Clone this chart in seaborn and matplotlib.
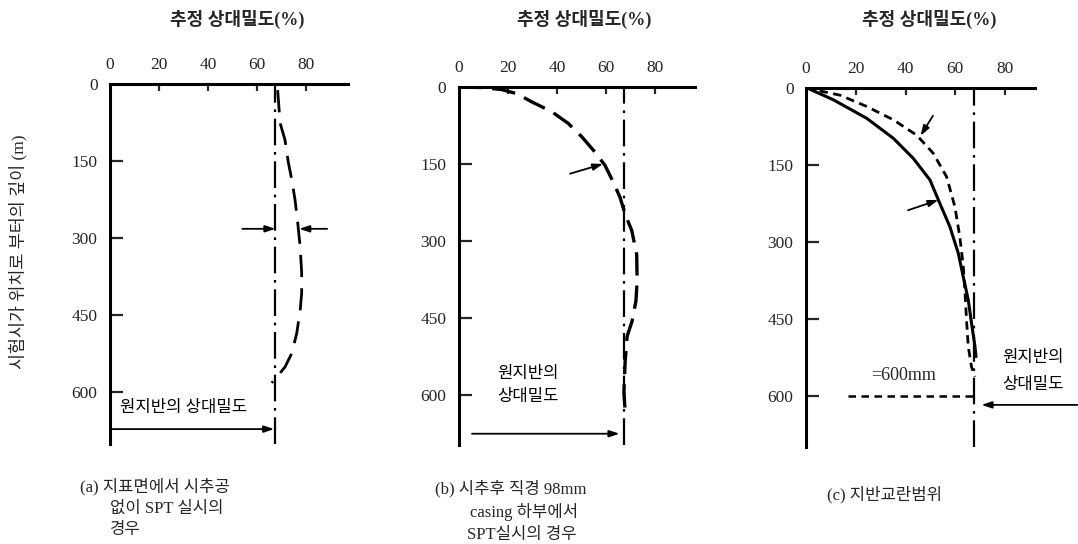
import matplotlib
matplotlib.use("Agg")
import matplotlib.pyplot as plt
import numpy as np
import pandas as pd
import seaborn as sns

sns.set_style("white")
plt.rcParams["font.family"] = ["Liberation Serif", "Noto Sans CJK KR"]

W, H = 1078, 544

# axis scales
x_ticks = [0, 20, 40, 60, 80]
y_ticks = [0, 150, 300, 450, 600]
x_title = "추정 상대밀도(%)"
y_title = "시험시가 위치로 부터의 깊이 (m)"

# relative density of the undisturbed ground (%)
orig_density = 67.5

# (a) SPT from ground surface without borehole
a_depth = [12, 76, 109, 154, 187, 226, 271, 318, 368, 407, 440, 485, 524, 551, 571, 582]
a_dens = [68.4, 69.4, 71.4, 72.8, 74.2, 75.5, 76.6, 77.6, 78.2, 78.2, 77.6, 76.2, 74.2, 71.4, 68.0, 66.0]

# (b) SPT below 98 mm casing after boring
b_depth = [0, 1, 5, 13, 29, 48, 71, 97, 127, 153, 186, 215, 248, 280, 326, 378, 417,
           457, 486, 535, 594, 633]
b_dens = [0.0, 9.3, 17.4, 23.6, 29.7, 37.8, 44.6, 50.1, 55.5, 59.6, 63.0, 65.7, 67.8,
          70.5, 72.5, 72.7, 72.2, 70.6, 68.6, 67.8, 67.3, 67.8]

# (c) disturbed zone
c_solid_depth = [0, 23, 59, 98, 137, 179, 225, 270, 322, 368, 413, 458, 504, 523]
c_solid_dens = [0.5, 11.0, 24.4, 35.1, 43.1, 49.8, 53.8, 57.8, 61.2, 63.2, 65.2, 66.5, 67.9, 68.3]
c_dash_depth = [0, 14, 36, 62, 92, 127, 173, 231, 290, 348, 400, 452, 504, 543, 562]
c_dash_dens = [0.0, 13.7, 24.4, 35.1, 44.5, 51.1, 56.5, 59.8, 61.8, 63.2, 63.9, 64.5, 65.2, 66.5, 67.9]
c_zone_depth = 600
c_zone_dens = [17.0, 67.5]

fig = plt.figure(figsize=(W / 100, H / 100), dpi=100)


def add_panel(left, top, right, bottom, xmax, ymax):
    ax = fig.add_axes([left / W, 1 - bottom / H, (right - left) / W, (bottom - top) / H])
    ax.set_xlim(0, xmax)
    ax.set_ylim(ymax, 0)
    for s in ["right", "bottom"]:
        ax.spines[s].set_visible(False)
    for s in ["left", "top"]:
        ax.spines[s].set_linewidth(2.2)
        ax.spines[s].set_color("black")
    ax.xaxis.tick_top()
    ax.set_xticks(x_ticks)
    ax.set_yticks(y_ticks)
    ax.set_xticklabels([str(v) for v in x_ticks], fontsize=12.5)
    ax.set_yticklabels([str(v) for v in y_ticks], fontsize=12.5)
    ax.tick_params(axis="x", direction="in", length=5, width=1.6, pad=8, top=True, bottom=False)
    ax.tick_params(axis="y", direction="in", length=9, width=1.6, pad=9, left=True)
    ax.set_xlabel("")
    ax.set_ylabel("")
    ax.grid(False)
    ax.set_facecolor("none")
    # hide the corner tick marks at zero
    ax.xaxis.get_major_ticks()[0].tick2line.set_visible(False)
    ax.yaxis.get_major_ticks()[0].tick1line.set_visible(False)
    # undisturbed density reference line
    ax.axvline(orig_density, color="black", lw=1.6, linestyle=(0, (12, 3, 1.2, 3)))
    return ax


def curve(ax, dens, depth, ls, lw=2.0):
    df = pd.DataFrame({"dens": dens, "depth": depth})
    sns.lineplot(data=df, x="dens", y="depth", sort=False, estimator=None,
                 color="black", lw=lw, linestyle=ls, ax=ax)
    ax.set_xlabel("")
    ax.set_ylabel("")


def arrow(ax, start, end):
    ax.annotate("", xy=end, xytext=start, annotation_clip=False,
                arrowprops=dict(arrowstyle="-|>,head_length=0.6,head_width=0.2",
                                color="black", lw=1.3, shrinkA=0, shrinkB=0))


txt_kw = dict(fontsize=12, color="black")

# ---- panel (a)
ax_a = add_panel(110, 84, 348, 444, 97.1, 701)
curve(ax_a, a_dens, a_depth, (0, (8, 4)), lw=2.0)
arrow(ax_a, (54, 282), (orig_density, 282))
arrow(ax_a, (88.6, 282), (77.2, 282))
arrow(ax_a, (1, 672), (orig_density - 0.5, 672))
ax_a.text(4, 630, "원지반의 상대밀도", ha="left", va="center", **txt_kw)

# ---- panel (b)
ax_b = add_panel(459, 87, 695, 445, 96.3, 698)
curve(ax_b, b_dens, b_depth, (0, (7, 3)), lw=2.4)
arrow(ax_b, (45.3, 169), (58.8, 150))
arrow(ax_b, (5.3, 676), (65.5, 676))
ax_b.text(28, 560, "원지반의", ha="center", va="center", **txt_kw)
ax_b.text(28, 604, "상대밀도", ha="center", va="center", **txt_kw)

# ---- panel (c)
ax_c = add_panel(806, 88, 1035, 447, 92, 699)
curve(ax_c, c_solid_dens, c_solid_depth, "-", lw=2.2)
curve(ax_c, c_dash_dens, c_dash_depth, (0, (3, 2)), lw=2.0)
curve(ax_c, c_zone_dens, [c_zone_depth, c_zone_depth], (0, (3, 2.2)), lw=1.8)
arrow(ax_c, (51, 54), (46, 93))
arrow(ax_c, (41, 238), (53.2, 218))
arrow(ax_c, (109, 617), (70.5, 617))
ax_c.text(39, 559, "=600mm", ha="center", va="center", fontsize=13)
ax_c.text(79, 526, "원지반의", ha="left", va="center", **txt_kw)
ax_c.text(79, 579, "상대밀도", ha="left", va="center", **txt_kw)

# ---- titles, axis label and captions
for cx in [237, 584, 929]:
    fig.text(cx / W, 1 - 19 / H, x_title, ha="center", va="center", fontsize=13, fontweight="bold")

fig.text(18 / W, 1 - 252 / H, y_title, rotation=90, ha="center", va="center", fontsize=12.5)

cap_kw = dict(ha="left", va="center", fontsize=12)
fig.text(80 / W, 1 - 487 / H, "(a) 지표면에서 시추공", **cap_kw)
fig.text(110 / W, 1 - 509 / H, "없이 SPT 실시의", **cap_kw)
fig.text(110 / W, 1 - 530 / H, "경우", **cap_kw)

fig.text(435 / W, 1 - 489 / H, "(b) 시추후 직경 98mm", **cap_kw)
fig.text(470 / W, 1 - 512 / H, "casing 하부에서", **cap_kw)
fig.text(467 / W, 1 - 535 / H, "SPT실시의 경우", **cap_kw)

fig.text(827 / W, 1 - 495 / H, "(c) 지반교란범위", **cap_kw)

fig.savefig("out.png", dpi=100, facecolor="white")
